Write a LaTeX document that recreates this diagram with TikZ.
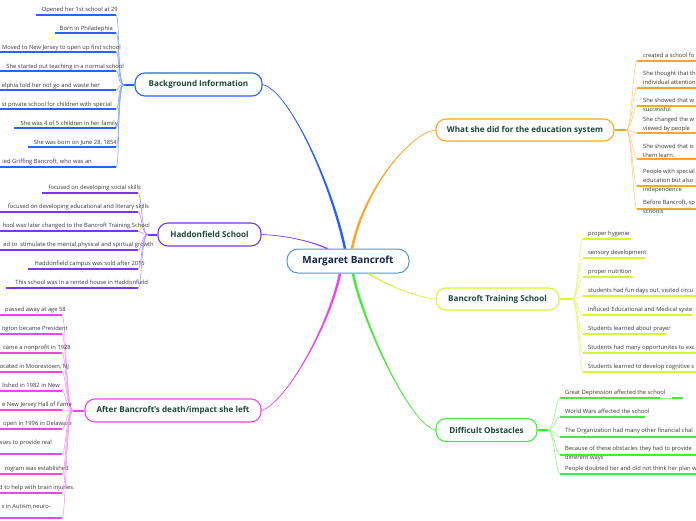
\documentclass[tikz,border=0pt]{standalone}
\usepackage{fontspec}
\setmainfont{Open Sans}
\definecolor{cblue}{RGB}{41,98,255}
\definecolor{cpurple}{RGB}{122,52,250}
\definecolor{cmag}{RGB}{238,70,238}
\definecolor{corange}{RGB}{255,165,40}
\definecolor{cyel}{RGB}{212,248,50}
\definecolor{cgreen}{RGB}{70,236,60}
\definecolor{ccenter}{RGB}{80,150,205}
\definecolor{ctitle}{RGB}{28,72,58}
\definecolor{cnavy}{RGB}{22,38,72}
\definecolor{cleaf}{RGB}{55,55,55}
\tikzset{
  branch/.style={draw, rounded corners=10pt, line width=1.1pt, fill=white, inner sep=0pt,
    minimum height=23pt, font=\fontsize{8.1}{9}\selectfont\bfseries, text=ctitle},
  central/.style={draw=ccenter, rounded corners=11pt, line width=1pt, fill=white, inner sep=0pt,
    minimum width=122pt, minimum height=24pt, font=\fontsize{9.9}{11}\selectfont\bfseries, text=cnavy},
  hubline/.style={line width=2pt},
  leaftext/.style={inner sep=0pt, font=\fontsize{5.8}{9}\selectfont, text=cleaf},
  uline/.style={line width=1.8pt},
  twig/.style={line width=0.6pt},
  trunk/.style={line width=0.6pt},
}
\begin{document}
\begin{tikzpicture}[x=1pt,y=-1pt]
\useasboundingbox (0,0) rectangle (696,520);
\fill[white] (0,0) rectangle (696,520);

% ---------- central and branch nodes ----------
\node[central] (c) at (348,261) {Margaret Bancroft};
\node[branch, draw=cblue, minimum width=127pt] (bg) at (198.5,84.5) {Background Information};
\node[branch, draw=cpurple, minimum width=103pt] (hd) at (209.5,234.5) {Haddonfield School};
\node[branch, draw=cmag, minimum width=176pt] (ad) at (173,410.5) {After Bancroft's death/impact she left};
\node[branch, draw=corange, minimum width=178pt, minimum height=22pt] (ws) at (525,130) {What she did for the education system};
\node[branch, draw=cyel, minimum width=123pt, minimum height=22pt] (ts) at (497.5,299) {Bancroft Training School};
\node[branch, draw=cgreen, minimum width=101pt] (ob) at (486.5,430) {Difficult Obstacles};

% ---------- trunks (tapered) ----------
\fill[cblue] (bg.east) .. controls +(25,5) and +(-15,-70) .. ([xshift=-4.3pt]c.north) -- ([xshift=-1.7pt]c.north) .. controls +(-15,-70) and +(25,5) .. (bg.east) -- cycle;
\draw[trunk,cblue] (bg.east) .. controls +(25,5) and +(-15,-70) .. ([xshift=-3pt]c.north);
\fill[corange] (ws.west) .. controls +(-25,3) and +(12,-60) .. ([xshift=2.7pt]c.north) -- ([xshift=5.3pt]c.north) .. controls +(12,-60) and +(-25,3) .. (ws.west) -- cycle;
\draw[trunk,corange] (ws.west) .. controls +(-25,3) and +(12,-60) .. ([xshift=4pt]c.north);
\fill[cpurple] (hd.east) .. controls +(25,1) and +(-15,-7) .. ([xshift=-22.3pt]c.north) -- ([xshift=-19.7pt]c.north) .. controls +(-15,-7) and +(25,1) .. (hd.east) -- cycle;
\draw[trunk,cpurple] (hd.east) .. controls +(25,1) and +(-15,-7) .. ([xshift=-21pt]c.north);
\fill[cmag] (ad.east) .. controls +(25,-8) and +(-10,50) .. ([xshift=-9.3pt]c.south) -- ([xshift=-6.7pt]c.south) .. controls +(-10,50) and +(25,-8) .. (ad.east) -- cycle;
\draw[trunk,cmag] (ad.east) .. controls +(25,-8) and +(-10,50) .. ([xshift=-8pt]c.south);
\fill[cgreen] (ob.west) .. controls +(-25,-5) and +(10,50) .. ([xshift=3.7pt]c.south) -- ([xshift=6.3pt]c.south) .. controls +(10,50) and +(-25,-5) .. (ob.west) -- cycle;
\draw[trunk,cgreen] (ob.west) .. controls +(-25,-5) and +(10,50) .. ([xshift=5pt]c.south);
\fill[cyel] (ts.west) .. controls +(-20,-2) and +(20,12) .. ([xshift=18.7pt]c.south) -- ([xshift=21.3pt]c.south) .. controls +(20,12) and +(-20,-2) .. (ts.west) -- cycle;
\draw[trunk,cyel] (ts.west) .. controls +(-20,-2) and +(20,12) .. ([xshift=20pt]c.south);

% ---------- hubs ----------
\coordinate (bgh) at (124,84.5);
\coordinate (hdh) at (148,234.5);
\coordinate (adh) at (73,410.5);
\coordinate (wsh) at (626,130);
\coordinate (tsh) at (572,299);
\coordinate (obh) at (548,430);
\draw[hubline,cblue] (bg.west) -- (bgh);
\draw[hubline,cpurple] (hd.west) -- (hdh);
\draw[hubline,cmag] (ad.west) -- (adh);
\draw[hubline,corange] (ws.east) -- (wsh);
\draw[hubline,cyel] (ts.east) -- (tsh);
\draw[hubline,cgreen] (ob.east) -- (obh);

% ---------- Background Information ----------
\foreach \txt/\tr/\bs/\ul/\us [count=\i] in {
  {Opened her 1st school at 29}/118/11/15/36,
  {Born in Philadephia}/113/30/33/55,
  {Moved to New Jersey to open up first school}/121/49/52/0,
  {She started out teaching in a normal school}/124/68/71/0,
  {elphia told her not go and waste her}/100/87/90/0,
  {st private school for children with special}/112/106/109/0,
  {She was 4 of 5 children in her family}/118/125/128/14,
  {She was born on June 28, 1854}/117/144/147/28,
  {ied Griffing Bancroft, who was an}/92/163/167/0}{
  \node[leaftext, anchor=base east] (bgl\i) at (\tr,\bs) {\txt};
  \coordinate (bge\i) at (116,\ul);
  \draw[twig,cblue!55] (bgh) .. controls +(-7,0) and +(4,0) .. (bge\i);
  \draw[uline,cblue] (\us,\ul) -- (bge\i);
}

% ---------- Haddonfield School ----------
\foreach \txt/\tr/\bs/\ul/\us [count=\i] in {
  {focused on developing social skills}/141/189/193/42,
  {focused on developing educational and literary skills}/149/208/212/0,
  {hool was later changed to the Bancroft Training School}/150/227/231/0,
  {ed to\ \ stimulate the mental,physical and spirtual growth}/154/246/250/0,
  {Haddonfield campus was sold after 2015}/145/265/269/28,
  {This school was in a rented house in Haddonfield}/148/284/288/6}{
  \node[leaftext, anchor=base east] (hdl\i) at (\tr,\bs) {\txt};
  \coordinate (hde\i) at (138,\ul);
  \draw[twig,cpurple!55] (hdh) .. controls +(-7,0) and +(4,0) .. (hde\i);
  \draw[uline,cpurple] (\us,\ul) -- (hde\i);
}

% ---------- After Bancroft's death ----------
\foreach \txt/\tr/\bs/\ul [count=\i] in {
  {passed away at age 58}/66/311/315,
  {ngton became President}/68/330/334,
  {came a nonprofit in 1928}/71/349/353,
  {ocated in Moorestown, NJ}/69/368/372,
  {lished in 1982 in New}/60/387/391,
  {e New Jersey Hall of Fame}/72/406/410,
  {open in 1996 in Delaware}/72/425/429,
  {sses to provide real}/52/444/454,
  {rogram was established}/69/470/474,
  {d to help with brain injuries.}/75/489/493,
  {s in Autism,neuro-}/51/508/518}{
  \node[leaftext, anchor=base east] (adl\i) at (\tr,\bs) {\txt};
  \coordinate (ade\i) at (62,\ul);
  \draw[twig,cmag!55] (adh) .. controls +(-7,0) and +(4,0) .. (ade\i);
  \draw[uline,cmag] (0,\ul) -- (ade\i);
}

% ---------- What she did ----------
\foreach \txt/\bs/\ul [count=\i] in {
  {created a school fo}/57/61,
  {She thought that th\\individual attention}/75/88,
  {She showed that w\\successful}/102/106,
  {She changed the w\\viewed by people}/121/133,
  {She showed that is\\them learn.}/148/159,
  {People with special\\education but also\\independence}/173/186,
  {Before Bancroft, sp\\schools}/204/209}{
  \node[leaftext, anchor=base west] (wsl\i) at (643,\bs) {\begin{tabular}[t]{@{}l@{}}\txt\end{tabular}};
  \coordinate (wse\i) at (637,\ul);
  \draw[twig,corange!55] (wsh) .. controls +(6,0) and +(-4,0) .. (wse\i);
  \draw[uline,corange] (wse\i) -- (696,\ul);
}

% ---------- Bancroft Training School ----------
\foreach \txt/\bs/\ul/\ue [count=\i] in {
  {proper hygenie}/235/239/631,
  {sensory development}/254/258/645,
  {proper nutrition}/273/277/633,
  {students had fun days out, visited circu}/292/296/696,
  {influced Educational and Medical syste}/311/315/692,
  {Students learned about prayer}/330/334/666,
  {Students had many opportunites to exc}/349/353/696,
  {Students learned to develop cognitive s}/368/372/696}{
  \node[leaftext, anchor=base west] (tsl\i) at (588,\bs) {\txt};
  \coordinate (tse\i) at (583,\ul);
  \draw[twig,cyel!70!white] (tsh) .. controls +(6,0) and +(-4,0) .. (tse\i);
  \draw[uline,cyel] (tse\i) -- (\ue,\ul);
}

% ---------- Difficult Obstacles ----------
\foreach \txt/\bs/\ul/\ue [count=\i] in {
  {Great Depression affected the school}/394/398/660,
  {World Wars affected the school}/413/417/645,
  {The Organization had many other financial chal}/432/437/696,
  {Because of these obstacles they had to provide\\different ways}/450/455/696,
  {People doubted her and did not think her plan w}/470/474/696}{
  \node[leaftext, anchor=base west] (obl\i) at (565,\bs) {\begin{tabular}[t]{@{}l@{}}\txt\end{tabular}};
  \coordinate (obe\i) at (560,\ul);
  \draw[twig,cgreen!60] (obh) .. controls +(6,0) and +(-4,0) .. (obe\i);
  \draw[uline,cgreen] (obe\i) -- (\ue,\ul);
}
\draw[twig,cgreen!60] (660,398) -- (672,398);
\draw[uline,cgreen] (672,398) -- (683,398);
\end{tikzpicture}
\end{document}
